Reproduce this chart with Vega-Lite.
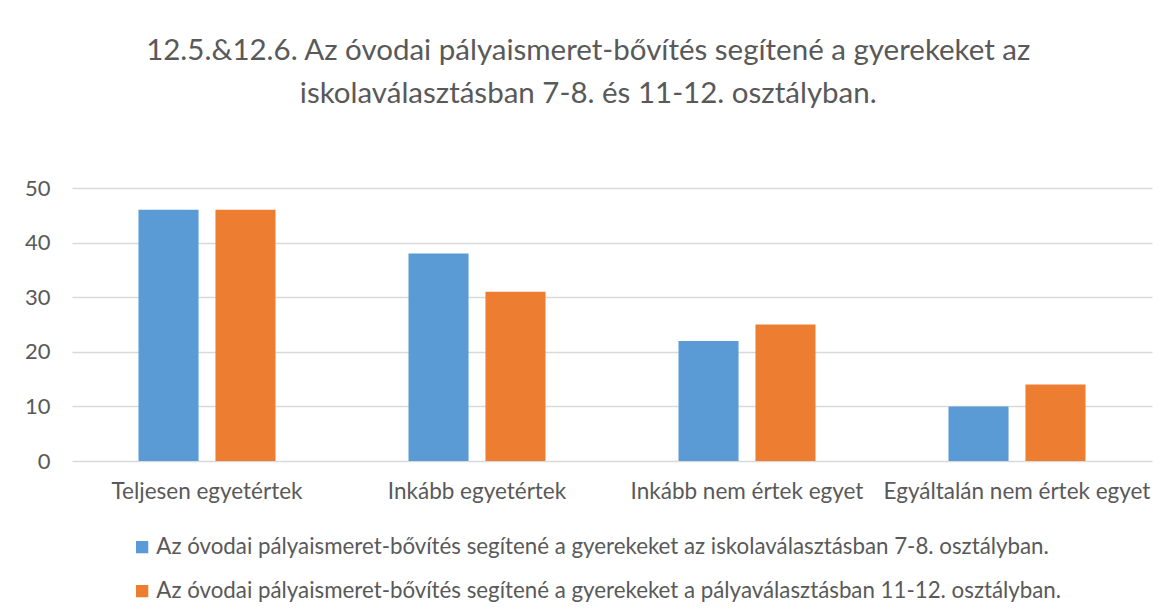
{
  "$schema": "https://vega.github.io/schema/vega-lite/v6.json",
  "autosize": {"type": "none"},
  "width": 1080,
  "height": 273,
  "padding": {"left": 72, "top": 188, "right": 17, "bottom": 155},
  "background": "white",
  "title": {
    "text": ["12.5.&12.6. Az óvodai pályaismeret-bővítés segítené a gyerekeket az", "iskolaválasztásban 7-8. és 11-12. osztályban."],
    "font": "Lato",
    "fontSize": 29.5,
    "fontWeight": "normal",
    "color": "#595959",
    "anchor": "middle",
    "frame": "bounds",
    "lineHeight": 43,
    "offset": 68
  },
  "data": {
    "values": [
      {"cat": "Teljesen egyetértek", "series": "Az óvodai pályaismeret-bővítés segítené a gyerekeket az iskolaválasztásban 7-8. osztályban.", "value": 46},
      {"cat": "Teljesen egyetértek", "series": "Az óvodai pályaismeret-bővítés segítené a gyerekeket a pályaválasztásban 11-12. osztályban.", "value": 46},
      {"cat": "Inkább egyetértek", "series": "Az óvodai pályaismeret-bővítés segítené a gyerekeket az iskolaválasztásban 7-8. osztályban.", "value": 38},
      {"cat": "Inkább egyetértek", "series": "Az óvodai pályaismeret-bővítés segítené a gyerekeket a pályaválasztásban 11-12. osztályban.", "value": 31},
      {"cat": "Inkább nem értek egyet", "series": "Az óvodai pályaismeret-bővítés segítené a gyerekeket az iskolaválasztásban 7-8. osztályban.", "value": 22},
      {"cat": "Inkább nem értek egyet", "series": "Az óvodai pályaismeret-bővítés segítené a gyerekeket a pályaválasztásban 11-12. osztályban.", "value": 25},
      {"cat": "Egyáltalán nem értek egyet", "series": "Az óvodai pályaismeret-bővítés segítené a gyerekeket az iskolaválasztásban 7-8. osztályban.", "value": 10},
      {"cat": "Egyáltalán nem értek egyet", "series": "Az óvodai pályaismeret-bővítés segítené a gyerekeket a pályaválasztásban 11-12. osztályban.", "value": 14}
    ]
  },
  "mark": {"type": "bar"},
  "encoding": {
    "x": {
      "field": "cat",
      "type": "nominal",
      "sort": null,
      "scale": {"paddingInner": 0.4926, "paddingOuter": 0.2463},
      "axis": {
        "title": null,
        "labelAngle": 0,
        "labelFont": "Lato",
        "labelFontSize": 22.5,
        "labelColor": "#595959",
        "labelPadding": 19,
        "ticks": false,
        "domain": false,
        "grid": false,
        "labelLimit": 400
      }
    },
    "xOffset": {
      "field": "series",
      "type": "nominal",
      "sort": null,
      "scale": {"paddingInner": 0.22, "paddingOuter": 0}
    },
    "y": {
      "field": "value",
      "type": "quantitative",
      "scale": {"domain": [0, 50]},
      "axis": {
        "title": null,
        "values": [0, 10, 20, 30, 40, 50],
        "labelFont": "Lato",
        "labelFontSize": 22,
        "labelColor": "#595959",
        "labelPadding": 22,
        "ticks": false,
        "domain": false,
        "grid": true,
        "gridColor": "#d9d9d9",
        "gridWidth": 1.3
      }
    },
    "color": {
      "field": "series",
      "type": "nominal",
      "sort": null,
      "scale": {
        "domain": ["Az óvodai pályaismeret-bővítés segítené a gyerekeket az iskolaválasztásban 7-8. osztályban.", "Az óvodai pályaismeret-bővítés segítené a gyerekeket a pályaválasztásban 11-12. osztályban."],
        "range": ["#5B9BD5", "#ED7D31"]
      },
      "legend": {
        "title": null,
        "orient": "none",
        "legendX": 59,
        "legendY": 348,
        "direction": "vertical",
        "symbolType": "square",
        "symbolSize": 150,
        "symbolStrokeWidth": 0,
        "labelFont": "Lato",
        "labelFontSize": 22.3,
        "labelColor": "#595959",
        "labelLimit": 1100,
        "labelOffset": 3,
        "rowPadding": 21
      }
    }
  },
  "config": {
    "view": {"stroke": null}
  }
}
